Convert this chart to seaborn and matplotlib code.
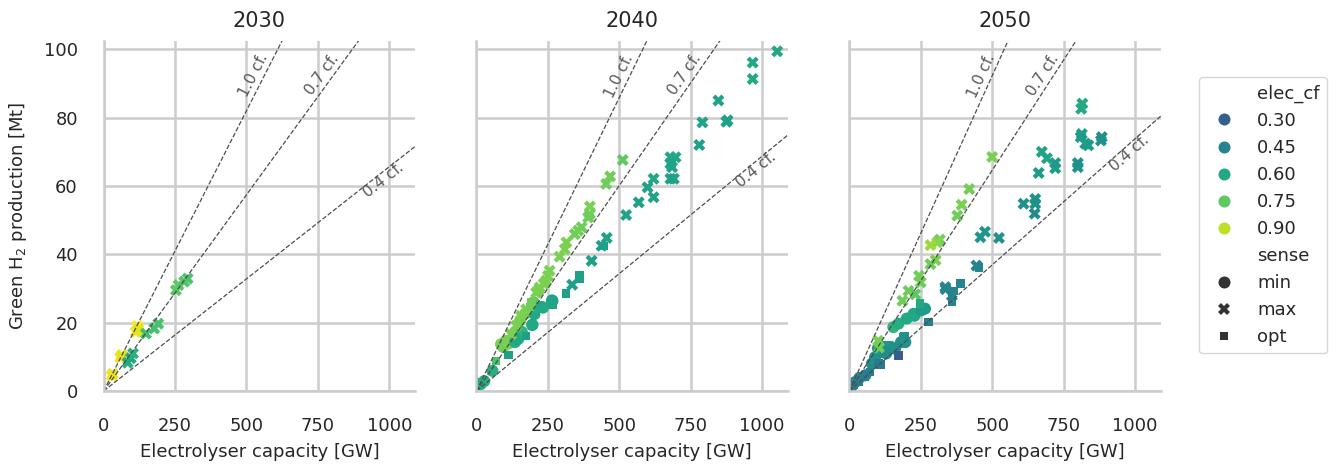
import numpy as np
import pandas as pd
import matplotlib
matplotlib.use("Agg")
import matplotlib.pyplot as plt
import seaborn as sns

years = [2030, 2040, 2050]
kwh_per_kg = [53.4, 51.0, 47.5]
cf_lines = [1.0, 0.7, 0.4]
sense_order = ["min", "max", "opt"]

# 2030
cap_2030_max = [28, 32, 58, 64, 112, 118, 122, 84, 95, 103, 148, 177, 191, 253, 262, 282, 294]
h2_2030_max = [4.5, 5.0, 9.8, 10.5, 17.3, 19.0, 18.0, 8.3, 9.6, 11.0, 16.8, 18.3, 19.7, 29.5, 31.0, 32.0, 32.9]
cf_2030_max = [0.98, 0.97, 0.98, 0.96, 0.97, 1.0, 0.96, 0.62, 0.6, 0.64, 0.7, 0.7, 0.71, 0.74, 0.75, 0.73, 0.72]

# 2040
cap_2040_min = [15, 27, 56, 86, 103, 94, 112, 135, 153, 170, 200, 135, 147, 159, 139, 196, 195, 203, 200, 229, 233, 264, 266]
h2_2040_min = [2.0, 2.9, 5.9, 13.7, 14.7, 12.9, 13.9, 17.3, 20.7, 22.6, 26.0, 14.3, 15.3, 17.3, 15.2, 19.4, 19.3, 22.5, 24.6, 24.6, 24.4, 26.5, 26.4]
cf_2040_min = [0.62, 0.62, 0.62, 0.8, 0.8, 0.78, 0.8, 0.8, 0.78, 0.8, 0.75, 0.62, 0.62, 0.65, 0.6, 0.58, 0.6, 0.6, 0.62, 0.6, 0.6, 0.58, 0.58]

cap_2040_max = [1053, 967, 967, 847, 791, 879, 875, 780, 679, 697, 679, 685, 679, 691, 620, 599, 620, 568, 524, 456, 438, 403, 335,
                512, 468, 454, 397, 397, 391, 368, 356, 344, 315, 309, 291, 256, 250, 244, 221, 209, 174, 156, 139, 121, 217, 235]
h2_2040_max = [99.4, 96.1, 91.3, 85.0, 78.6, 79.2, 78.8, 72.0, 68.4, 68.4, 66.5, 65.5, 62.1, 62.1, 62.1, 59.6, 56.7, 55.2, 51.5, 44.8, 42.5, 38.1, 31.1,
               67.6, 62.8, 60.6, 54.0, 51.8, 50.8, 47.9, 46.9, 45.9, 43.5, 41.5, 39.3, 35.2, 33.7, 32.3, 30.3, 28.8, 23.9, 22.0, 19.1, 16.6, 29.5, 31.4]
cf_2040_max = [0.6, 0.6, 0.6, 0.58, 0.58, 0.57, 0.57, 0.57, 0.6, 0.6, 0.58, 0.58, 0.57, 0.57, 0.6, 0.58, 0.58, 0.57, 0.58, 0.58, 0.57, 0.57, 0.56,
               0.75, 0.78, 0.78, 0.8, 0.78, 0.78, 0.78, 0.78, 0.78, 0.8, 0.8, 0.8, 0.8, 0.8, 0.8, 0.8, 0.8, 0.8, 0.8, 0.8, 0.8, 0.8, 0.8]

cap_2040_opt = [18, 68, 112, 174, 192, 188, 268, 313, 360, 360, 444, 264]
h2_2040_opt = [2.5, 8.8, 10.5, 16.1, 25.9, 24.6, 25.1, 28.5, 34.0, 32.9, 42.5, 25.6]
cf_2040_opt = [0.62, 0.72, 0.57, 0.57, 0.78, 0.78, 0.58, 0.56, 0.57, 0.57, 0.57, 0.58]

# 2050
cap_2050_min = [6, 12, 20, 35, 56, 79, 90, 114, 137, 160, 196, 154, 172, 201, 225, 228, 265, 252, 100, 123, 146, 129, 181]
h2_2050_min = [1.2, 1.8, 2.6, 3.8, 4.6, 8.0, 9.9, 11.4, 12.9, 12.4, 14.3, 18.7, 19.7, 21.2, 22.6, 22.0, 24.1, 23.6, 12.5, 12.9, 12.9, 11.0, 14.3]
cf_2050_min = [0.45, 0.45, 0.45, 0.45, 0.42, 0.48, 0.5, 0.48, 0.5, 0.45, 0.5, 0.65, 0.62, 0.6, 0.6, 0.6, 0.55, 0.55, 0.55, 0.5, 0.5, 0.48, 0.5]

cap_2050_max = [816, 812, 814, 810, 826, 837, 884, 881, 674, 692, 721, 721, 800, 800, 663, 651, 651, 649, 610, 475, 459, 524, 445, 337, 359, 336,
                500, 420, 393, 378, 317, 308, 284, 302, 284, 244, 250, 231, 207, 186, 101, 104]
h2_2050_max = [84.1, 82.6, 75.2, 74.3, 72.4, 71.9, 74.3, 73.3, 70.0, 68.1, 66.7, 65.2, 66.7, 65.5, 63.8, 56.2, 54.8, 51.9, 54.8, 46.6, 45.0, 44.8, 36.7, 29.8, 27.9, 30.4,
               68.5, 59.1, 54.5, 51.3, 44.3, 43.5, 42.7, 38.3, 37.1, 33.7, 31.8, 28.3, 29.3, 26.4, 14.7, 12.7]
cf_2050_max = [0.6, 0.6, 0.55, 0.55, 0.55, 0.55, 0.5, 0.5, 0.58, 0.58, 0.55, 0.55, 0.5, 0.5, 0.55, 0.5, 0.5, 0.48, 0.5, 0.52, 0.52, 0.5, 0.45, 0.45, 0.45, 0.45,
               0.8, 0.78, 0.8, 0.78, 0.78, 0.82, 0.85, 0.8, 0.78, 0.78, 0.78, 0.75, 0.78, 0.78, 0.8, 0.78]

cap_2050_opt = [14, 32, 55, 73, 102, 110, 172, 189, 193, 248, 277, 360, 360, 365, 389, 454]
h2_2050_opt = [1.7, 2.6, 4.1, 5.6, 8.0, 7.8, 10.4, 15.6, 16.0, 25.6, 20.2, 26.0, 28.5, 29.3, 31.4, 36.2]
cf_2050_opt = [0.42, 0.42, 0.42, 0.42, 0.4, 0.4, 0.29, 0.5, 0.5, 0.6, 0.42, 0.45, 0.45, 0.45, 0.45, 0.45]


def build_frame():
    """Stack the per-year, per-sense lists into one long table"""
    groups = [
        (2030, "max", cap_2030_max, h2_2030_max, cf_2030_max),
        (2040, "min", cap_2040_min, h2_2040_min, cf_2040_min),
        (2040, "max", cap_2040_max, h2_2040_max, cf_2040_max),
        (2040, "opt", cap_2040_opt, h2_2040_opt, cf_2040_opt),
        (2050, "min", cap_2050_min, h2_2050_min, cf_2050_min),
        (2050, "max", cap_2050_max, h2_2050_max, cf_2050_max),
        (2050, "opt", cap_2050_opt, h2_2050_opt, cf_2050_opt),
    ]
    parts = []
    for year, sense, cap, h2, cf in groups:
        parts.append(pd.DataFrame({"year": year, "sense": sense, "capacity": cap,
                                   "h2": h2, "elec_cf": cf}))
    return pd.concat(parts, ignore_index=True)


def screen_angle(ax, slope):
    p0 = ax.transData.transform((0, 0))
    p1 = ax.transData.transform((100, 100 * slope))
    return np.degrees(np.arctan2(p1[1] - p0[1], p1[0] - p0[0]))


def main():
    df = build_frame()

    sns.set_theme(style="whitegrid", rc={
        "xtick.labelsize": 12.9, "ytick.labelsize": 12.9,
        "axes.labelsize": 13, "axes.titlesize": 15,
        "legend.fontsize": 13,
        "grid.linewidth": 1.8, "axes.linewidth": 1.8,
        "grid.color": "#cccccc", "axes.edgecolor": "#cccccc",
        "axes.titlepad": 10,
    })

    g = sns.relplot(data=df, x="capacity", y="h2", col="year", col_order=years,
                    hue="elec_cf", hue_norm=(0, 1), palette="viridis",
                    style="sense", style_order=sense_order, s=75, linewidth=0,
                    kind="scatter")
    g.set_titles("{col_name}", size=15)
    g.set_axis_labels("Electrolyser capacity [GW]", "Green H$_2$ production [Mt]")
    g.set(xlim=(0, 1090), ylim=(0, 102.5), xticks=[0, 250, 500, 750, 1000],
          yticks=[0, 20, 40, 60, 80, 100])

    sns.move_legend(g, "center left", bbox_to_anchor=(0.8875, 0.54), frameon=True)

    fig = g.figure
    fig.set_size_inches(13.41, 4.68)
    fig.subplots_adjust(left=0.0773, right=0.8655, bottom=0.1645, top=0.913, wspace=0.1976)

    for ax in g.axes.flat:
        ax.tick_params(axis="both", which="major", length=0, pad=18.5)
        ax.xaxis.labelpad = 6
    g.axes.flat[0].yaxis.labelpad = 11

    # capacity-factor guide lines
    for ax, kwh in zip(g.axes.flat, kwh_per_kg):
        for cf in cf_lines:
            slope = cf * 8.76 / kwh
            ax.axline((0, 0), slope=slope, ls="--", color="0.3", lw=0.9)
            ang = screen_angle(ax, slope)
            th = np.radians(ang)
            if cf > 0.5:
                xa = 91 / slope
                d = 7
            else:
                xa = 965
                d = -5
            ax.annotate(f"{cf:.1f} cf.", xy=(xa, slope * xa),
                        xytext=(-np.sin(th) * d, np.cos(th) * d), textcoords="offset points",
                        rotation=ang, rotation_mode="anchor", ha="center", va="center",
                        fontsize=11, color="0.35")

    fig.savefig("out.png", dpi=100)
    plt.close(fig)


if __name__ == "__main__":
    main()
